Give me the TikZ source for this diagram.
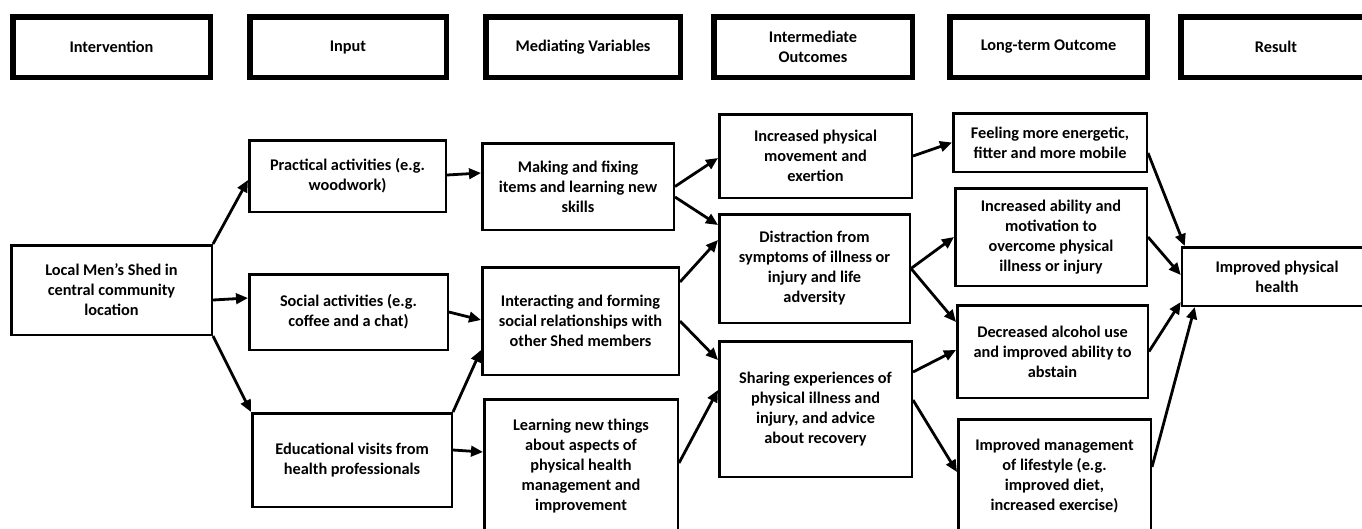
\documentclass[tikz,border=0pt]{standalone}
\usepackage{fontspec}
\setmainfont{Carlito}
\usetikzlibrary{arrows.meta}
\tikzset{
  box/.style={draw, line width=2.5pt, align=center, inner sep=0pt,
    font=\bfseries\fontsize{16.3}{20}\selectfont},
  headbox/.style={box, line width=5.5pt, minimum height=60.5pt},
  link/.style={line width=2.8pt, -{Triangle[length=12pt,width=10.5pt]}}
}
\begin{document}
\begin{tikzpicture}[x=1pt,y=-1pt]
\useasboundingbox (0,0) rectangle (1362,528);
\clip (0,0) rectangle (1362,528);
\node[headbox, minimum width=197.5pt] (hint) at (111.5,47) {Intervention};
\node[headbox, minimum width=196.5pt] (hinp) at (348,47) {Input};
\node[headbox, minimum width=194.5pt] (hmed) at (583,47) {Mediating Variables};
\node[headbox, minimum width=198.5pt] (hint2) at (813,47) {Intermediate\\Outcomes};
\node[headbox, minimum width=197.5pt] (hlong) at (1048.5,47) {Long-term Outcome};
\node[headbox, minimum width=190pt] (hres) at (1276,47) {Result};
\node[box, minimum width=200.5pt, minimum height=89.5pt] (shed) at (111.5,290) {Local Men’s Shed in\\central community\\location};
\node[box, minimum width=196.5pt, minimum height=71.5pt] (practical) at (347.5,176) {Practical activities (e.g.\\woodwork)};
\node[box, minimum width=198.5pt, minimum height=75.5pt] (social) at (348.5,312) {Social activities (e.g.\\coffee and a chat)};
\node[box, minimum width=199.5pt, minimum height=93.5pt] (educ) at (352,460) {Educational visits from\\health professionals};
\node[box, minimum width=191.5pt, minimum height=86.5pt] (making) at (578,186.5) {Making and fixing\\items and learning new\\skills};
\node[box, minimum width=196.5pt, minimum height=107.5pt] (interact) at (580.5,321) {Interacting and forming\\social relationships with\\other Shed members};
\node[box, minimum width=193.5pt, minimum height=134.5pt] (learning) at (581,466.5) {Learning new things\\about aspects of\\physical health\\management and\\improvement};
\node[box, minimum width=192.5pt, minimum height=83.5pt] (movement) at (815.5,156) {Increased physical\\movement and\\exertion};
\node[box, minimum width=190.5pt, minimum height=108.5pt] (distraction) at (814.5,268.5) {Distraction from\\symptoms of illness or\\injury and life\\adversity};
\node[box, minimum width=192.5pt, minimum height=135.5pt] (sharing) at (815.5,409) {Sharing experiences of\\physical illness and\\injury, and advice\\about recovery};
\node[box, minimum width=193.5pt, minimum height=58.5pt] (feeling) at (1050,142.5) {Feeling more energetic,\\fitter and more mobile};
\node[box, minimum width=191.5pt, minimum height=97.5pt] (ability) at (1051,237) {Increased ability and\\motivation to\\overcome physical\\illness or injury};
\node[box, minimum width=190.5pt, minimum height=92.5pt] (alcohol) at (1052.5,351.5) {Decreased alcohol use\\and improved ability to\\abstain};
\node[box, minimum width=192.5pt, minimum height=114.5pt] (lifestyle) at (1054.5,476.5) {Improved management\\of lifestyle (e.g.\\improved diet,\\increased exercise)};
\node[box, minimum width=190pt, minimum height=58.5pt] (health) at (1277,276.5) {Improved physical\\health};
\draw[link] (shed.north east) -- ([yshift=-4pt]practical.west);
\draw[link] ([yshift=-10pt]shed.east) -- ([yshift=14pt]social.west);
\draw[link] (shed.south east) -- (educ.north west);
\draw[link] ([yshift=1pt]practical.east) -- ([yshift=13.5pt]making.west);
\draw[link] (social.east) -- ([yshift=1pt]interact.west);
\draw[link] (educ.north east) -- ([yshift=-29pt]interact.west);
\draw[link] ([yshift=10pt]educ.east) -- ([yshift=14.5pt]learning.west);
\draw[link] (making.east) -- ([yshift=-2pt]movement.west);
\draw[link] ([yshift=-10.5pt]making.east) -- ([yshift=43.5pt]distraction.west);
\draw[link] ([yshift=39pt]interact.east) -- ([yshift=28.5pt]distraction.west);
\draw[link] (interact.east) -- ([yshift=49pt]sharing.west);
\draw[link] ([yshift=3.5pt]learning.east) -- ([yshift=19pt]sharing.west);
\draw[link] (movement.east) -- (feeling.west);
\draw[link] (distraction.east) -- (ability.west);
\draw[link] (distraction.east) -- ([yshift=29.5pt]alcohol.west);
\draw[link] ([yshift=37pt]sharing.east) -- ([yshift=1.5pt]alcohol.west);
\draw[link] ([yshift=9pt]sharing.east) -- ([yshift=4.5pt]lifestyle.west);
\draw[link] ([yshift=-10.5pt]feeling.east) -- ([xshift=4pt]health.north west);
\draw[link] (ability.east) -- ([yshift=1.5pt]health.west);
\draw[link] (alcohol.east) -- ([yshift=5pt]health.south west);
\draw[link] ([yshift=9.5pt]lifestyle.east) -- ([xshift=14pt]health.south west);
\end{tikzpicture}
\end{document}
